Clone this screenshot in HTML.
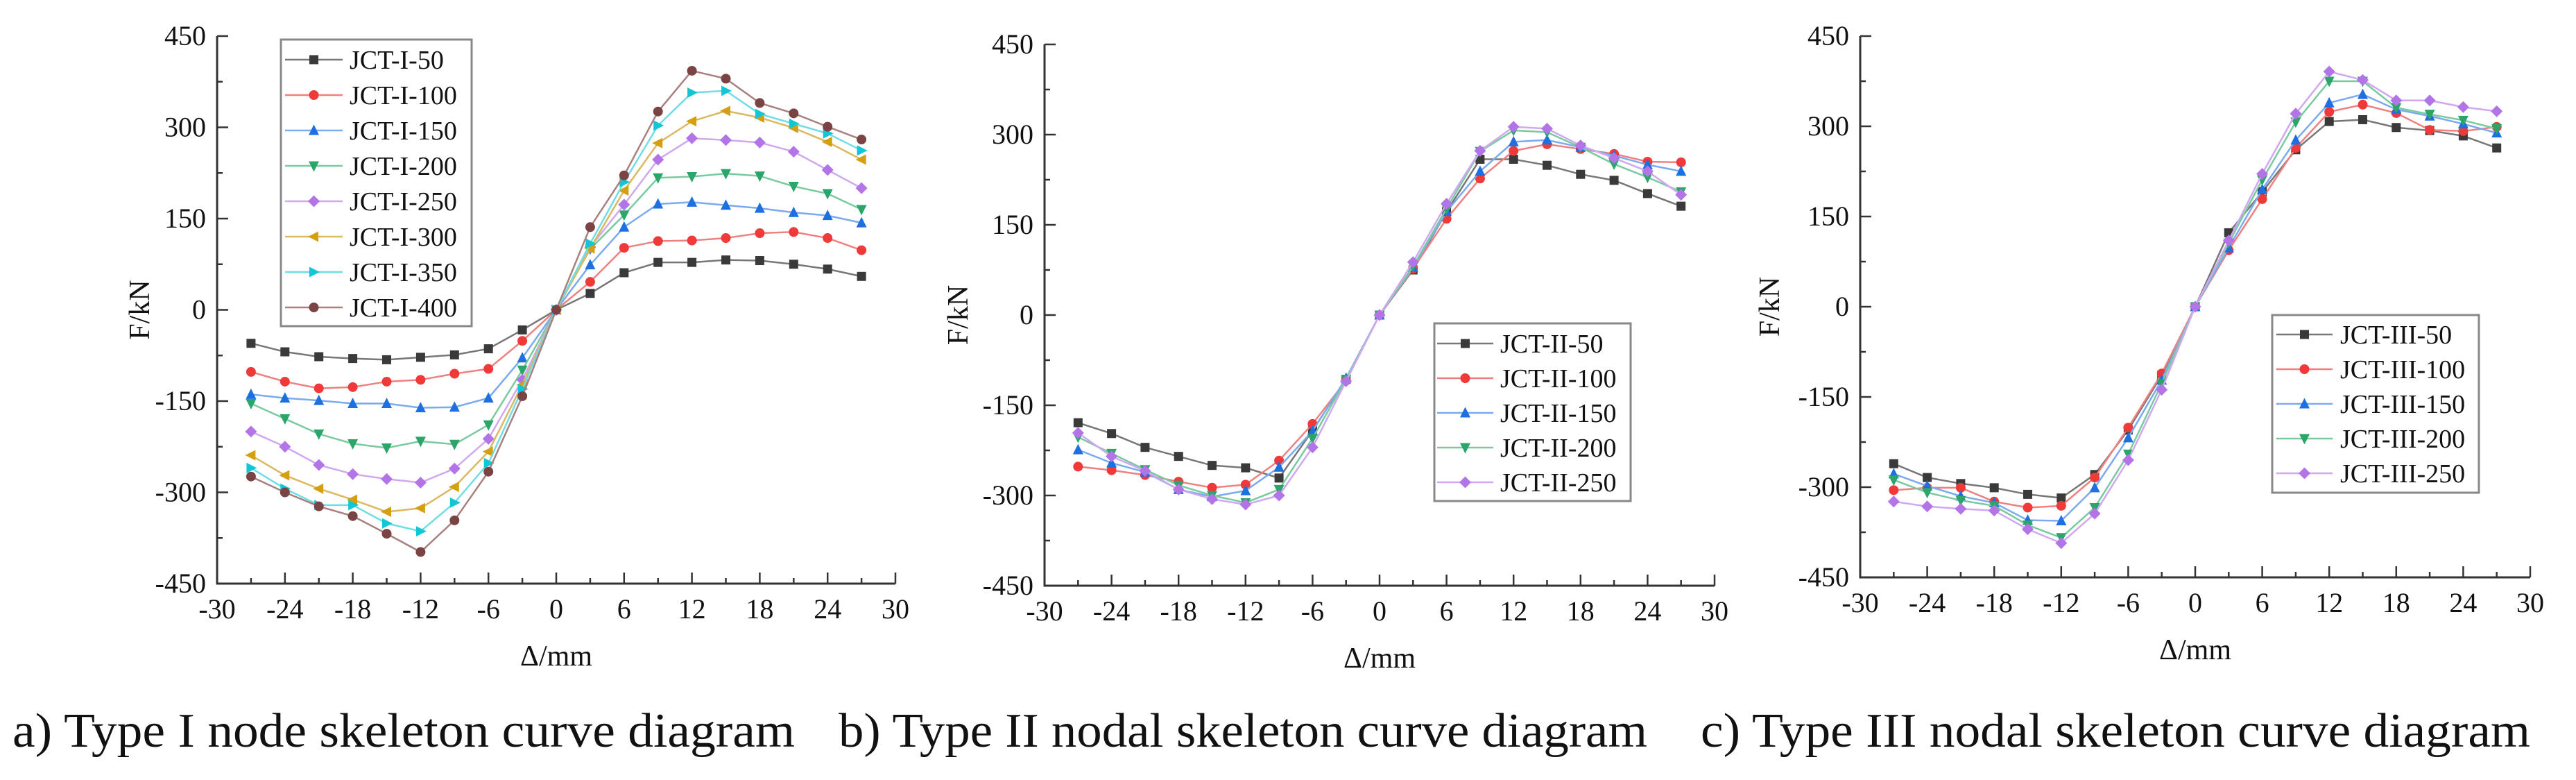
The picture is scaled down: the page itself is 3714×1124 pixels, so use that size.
<!DOCTYPE html>
<html><head><meta charset="utf-8"><style>
html,body{margin:0;padding:0;background:#fff;}
svg{display:block;}
svg text{font-family:"Liberation Serif","Times New Roman","DejaVu Serif",serif !important;fill:#111;}
</style></head><body>
<svg id="fig" width="3714" height="1124" viewBox="0 0 3714 1124" xmlns="http://www.w3.org/2000/svg" font-family="Liberation Serif, serif">
<rect width="3714" height="1124" fill="#fff"/>
<text font-family="Liberation Serif, serif" x="18" y="1076" font-size="70" textLength="1128" lengthAdjust="spacingAndGlyphs">a) Type I node skeleton curve diagram</text>
<text font-family="Liberation Serif, serif" x="1209" y="1076" font-size="70" textLength="1166" lengthAdjust="spacingAndGlyphs">b) Type II nodal skeleton curve diagram</text>
<text font-family="Liberation Serif, serif" x="2452" y="1076" font-size="70" textLength="1196" lengthAdjust="spacingAndGlyphs">c) Type III nodal skeleton curve diagram</text>
</svg>
<script>
const xValues = [-27,-24,-21,-18,-15,-12,-9,-6,-3,0,3,6,9,12,15,18,21,24,27];
const xTicks = [-30,-24,-18,-12,-6,0,6,12,18,24,30];
const yTicks = [-450,-300,-150,0,150,300,450];

const namesA = ["JCT-I-50","JCT-I-100","JCT-I-150","JCT-I-200","JCT-I-250","JCT-I-300","JCT-I-350","JCT-I-400"];
const a50  = [-55,-69,-77,-80,-82,-78,-74,-64,-33,0,27,61,78,78,82,81,75,67,55];
const a100 = [-102,-118,-129,-127,-118,-115,-105,-97,-51,0,46,102,113,114,118,126,128,118,98];
const a150 = [-139,-145,-149,-154,-154,-161,-160,-145,-79,0,74,136,174,177,172,167,160,155,143];
const a200 = [-154,-179,-204,-220,-227,-216,-221,-189,-99,0,100,156,217,219,224,220,203,191,165];
const a250 = [-200,-225,-255,-270,-278,-284,-261,-212,-115,0,103,173,247,282,279,275,260,230,200];
const a300 = [-239,-272,-294,-312,-332,-326,-291,-233,-123,0,101,196,274,310,327,316,299,276,247];
const a350 = [-260,-294,-321,-321,-351,-364,-317,-252,-130,0,109,210,303,357,360,322,306,290,262];
const a400 = [-274,-300,-323,-339,-368,-398,-346,-266,-142,0,136,221,326,393,380,340,323,301,280];

const namesB = ["JCT-II-50","JCT-II-100","JCT-II-150","JCT-II-200","JCT-II-250"];
const b50  = [-179,-197,-220,-235,-250,-254,-271,-192,-107,0,75,172,259,259,249,234,224,202,181];
const b100 = [-252,-258,-266,-277,-287,-282,-242,-181,-109,0,77,160,227,273,284,276,268,255,254];
const b150 = [-224,-246,-261,-290,-302,-292,-253,-193,-105,0,79,172,239,288,291,279,265,250,239];
const b200 = [-203,-230,-257,-283,-300,-312,-290,-205,-107,0,81,177,272,307,304,279,251,229,205];
const b250 = [-196,-235,-259,-290,-306,-315,-300,-220,-110,0,88,185,273,313,310,282,261,239,200];

const namesC = ["JCT-III-50","JCT-III-100","JCT-III-150","JCT-III-200","JCT-III-250"];
const c50  = [-261,-284,-294,-301,-312,-318,-279,-205,-114,0,123,191,261,308,311,298,293,284,264];
const c100 = [-305,-301,-301,-324,-334,-331,-284,-201,-111,0,94,179,264,324,336,322,294,292,299];
const c150 = [-278,-298,-315,-326,-355,-356,-301,-218,-122,0,98,195,277,339,353,328,317,304,289];
const c200 = [-288,-309,-322,-331,-363,-384,-334,-245,-128,0,106,211,307,375,375,331,320,310,296];
const c250 = [-324,-332,-336,-339,-370,-393,-344,-255,-138,0,110,221,321,391,377,343,343,332,325];

const NS = "http://www.w3.org/2000/svg";
const FONT = "Liberation Serif, serif";
const svg = document.getElementById('fig');
const styles = [
  {c:"#3a3a3a", lc:"#777", m:"square"},
  {c:"#f03a3a", lc:"#f08080", m:"circle"},
  {c:"#1e6fe0", lc:"#7aaaf0", m:"up"},
  {c:"#2ca56a", lc:"#7acaa0", m:"down"},
  {c:"#b274e6", lc:"#cfa8f0", m:"diamond"},
  {c:"#d4a012", lc:"#dcb860", m:"left"},
  {c:"#12c6d6", lc:"#70dde6", m:"right"},
  {c:"#7a4444", lc:"#a88080", m:"circle"}
];
function mk(tag, attrs, parent){ const e=document.createElementNS(NS,tag); for(const k in attrs) e.setAttribute(k,attrs[k]); if(tag==='text') e.setAttribute('font-family',FONT); (parent||svg).appendChild(e); return e; }
function marker(g, type, x, y, col){
  const s=6.5; let e;
  if(type==="square") e=mk('rect',{x:x-s,y:y-s,width:2*s,height:2*s,fill:col},g);
  else if(type==="circle") e=mk('circle',{cx:x,cy:y,r:s+0.5,fill:col},g);
  else if(type==="up") e=mk('polygon',{points:`${x},${y-s-2} ${x-s-1},${y+s} ${x+s+1},${y+s}`,fill:col},g);
  else if(type==="down") e=mk('polygon',{points:`${x},${y+s+2} ${x-s-1},${y-s} ${x+s+1},${y-s}`,fill:col},g);
  else if(type==="diamond") e=mk('polygon',{points:`${x},${y-s-2} ${x+s+2},${y} ${x},${y+s+2} ${x-s-2},${y}`,fill:col},g);
  else if(type==="left") e=mk('polygon',{points:`${x-s-2},${y} ${x+s},${y-s-1} ${x+s},${y+s+1}`,fill:col},g);
  else e=mk('polygon',{points:`${x+s+2},${y} ${x-s},${y-s-1} ${x-s},${y+s+1}`,fill:col},g);
  
  
}
function chart(id, box, names, series, legend){
  const g = mk('g',{});
  
  
  const X = v => box.x0 + (v+30)/60*(box.x1-box.x0);
  const Y = v => box.y1 - (v+450)/900*(box.y1-box.y0);
  const ax = mk('path',{d:`M${box.x0},${box.y0} V${box.y1} H${box.x1}`,stroke:"#333","stroke-width":3,fill:"none"},g);
  
  
  for(let v=-30; v<=30; v+=3){
    const major = v%6===0;
    const t = mk('line',{x1:X(v),x2:X(v),y1:box.y1,y2:box.y1-(major?16:8),stroke:"#333","stroke-width":2.5},g);
    
    
  }
  for(let v=-450; v<=450; v+=75){
    const major = v%150===0;
    const t = mk('line',{x1:box.x0,x2:box.x0+(major?16:8),y1:Y(v),y2:Y(v),stroke:"#333","stroke-width":2.5},g);
    
    
  }
  xTicks.forEach(v=>{
    const t = mk('text',{x:X(v),y:box.y1+50,"font-size":40,"text-anchor":"middle"},g);
    t.textContent = String(v);
    
    
  });
  yTicks.forEach(v=>{
    const t = mk('text',{x:box.x0-16,y:Y(v)+13,"font-size":40,"text-anchor":"end"},g);
    t.textContent = String(v);
    
    
  });
  const xt = mk('text',{x:X(0),y:box.y1+118,"font-size":42,"text-anchor":"middle"},g);
  xt.textContent = "Δ/mm";
  
  
  const yc = (box.y0+box.y1)/2;
  const yt = mk('text',{x:box.yt,y:yc,"font-size":42,"text-anchor":"middle",transform:`rotate(-90 ${box.yt} ${yc})`},g);
  yt.textContent = "F/kN";
  
  
  series.forEach((vals,i)=>{
    const st = styles[i];
    const sg = mk('g',{},g);
    
    
    const pts = vals.map((v,j)=>`${X(xValues[j])},${Y(v)}`).join(' ');
    const pl = mk('polyline',{points:pts,stroke:st.lc,"stroke-width":2.5,fill:"none"},sg);
    
    
    vals.forEach((v,j)=>marker(sg, st.m, X(xValues[j]), Y(v), st.c));
  });
  const lg = mk('g',{},g);
  
  
  const lb = mk('rect',{x:legend.x0,y:legend.y0,width:legend.x1-legend.x0,height:legend.y1-legend.y0,fill:"#fff",stroke:"#888","stroke-width":3},lg);
  
  
  names.forEach((n,i)=>{
    const st = styles[i];
    const y = legend.ey + i*legend.dy;
    const eg = mk('g',{},lg);
    
    
    mk('line',{x1:legend.lx0,x2:legend.lx1,y1:y,y2:y,stroke:st.lc,"stroke-width":2.5},eg);
    marker(eg, st.m, (legend.lx0+legend.lx1)/2, y, st.c);
    const t = mk('text',{x:legend.tx,y:y+13,"font-size":38},eg);
    t.textContent = n;
  });
}
chart('chart-a-type-i', {x0:313,x1:1291,y0:52,y1:841,yt:215}, namesA, [a50,a100,a150,a200,a250,a300,a350,a400],
  {x0:405,x1:680,y0:57,y1:470,ey:86,dy:51,lx0:411,lx1:494,tx:504});
chart('chart-b-type-ii', {x0:1506,x1:2472,y0:64,y1:844,yt:1395}, namesB, [b50,b100,b150,b200,b250],
  {x0:2068,x1:2351,y0:466,y1:722,ey:495,dy:50,lx0:2072,lx1:2153,tx:2163});
chart('chart-c-type-iii', {x0:2682,x1:3648,y0:52,y1:832,yt:2565}, namesC, [c50,c100,c150,c200,c250],
  {x0:3276,x1:3574,y0:454,y1:710,ey:482,dy:50,lx0:3282,lx1:3363,tx:3374});
</script>
</body></html>
